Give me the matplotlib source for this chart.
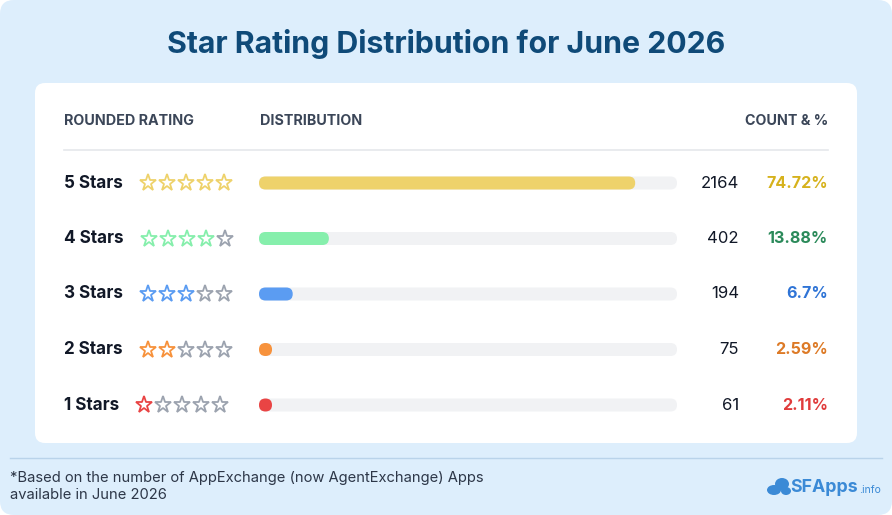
import matplotlib
matplotlib.use("Agg")
import matplotlib.pyplot as plt
from matplotlib.patches import FancyBboxPatch, Ellipse

# data
labels = ["5 Stars", "4 Stars", "3 Stars", "2 Stars", "1 Stars"]
stars = [5, 4, 3, 2, 1]
counts = [2164, 402, 194, 75, 61]
pcts = ["74.72%", "13.88%", "6.7%", "2.59%", "2.11%"]
bar_colors = ["#eed26b", "#86efac", "#5b9cf2", "#f7923c", "#e94444"]
pct_colors = ["#d6b21c", "#2b8a5a", "#2f74d6", "#dd7a26", "#e03b3b"]

title = "Star Rating Distribution for June 2026"
footnote = ["*Based on the number of AppExchange (now AgentExchange) Apps",
            "available in June 2026"]

FONT = "Inter"
W, H = 892, 515

fig = plt.figure(figsize=(W / 100, H / 100), dpi=100, facecolor="white")
ax = fig.add_axes([0, 0, 1, 1])
ax.set_xlim(0, W)
ax.set_ylim(H, 0)
ax.axis("off")

# page background and card
ax.add_patch(FancyBboxPatch((0, 0), W, H, boxstyle="round,pad=0,rounding_size=14",
                            fc="#ddeefc", ec="none"))
ax.add_patch(FancyBboxPatch((35, 83), 822, 360, boxstyle="round,pad=0,rounding_size=10",
                            fc="white", ec="none"))

ax.text(W / 2, 44, title, ha="center", va="center", fontsize=21.8,
        fontweight="bold", color="#0f4a78", family=FONT)

# header
hdr = dict(fontsize=10.3, fontweight="bold", color="#3b4658", family=FONT, va="center")
ax.text(64, 121, "ROUNDED RATING", ha="left", **hdr)
ax.text(260, 121, "DISTRIBUTION", ha="left", **hdr)
ax.text(828, 121, "COUNT & %", ha="right", **hdr)
ax.plot([64, 828], [150, 150], color="#e5e7eb", lw=1.2)

# rows
y0, step = 183, 55.5
track_x0, track_x1, bar_h = 259, 677, 13
track_w = track_x1 - track_x0
max_count = max(counts)

fig.canvas.draw()
renderer = fig.canvas.get_renderer()

for i, lab in enumerate(labels):
    y = y0 + i * step
    t = ax.text(64, y, lab, ha="left", va="center", fontsize=12.3,
                fontweight="bold", color="#111827", family=FONT)
    bb = t.get_window_extent(renderer=renderer)
    sx = bb.x1 + 25
    for k in range(5):
        c = bar_colors[i] if k < stars[i] else "#9ca3af"
        ax.plot(sx + k * 19, y, marker="*", ms=12.5, mfc="none", mec=c, mew=1.3)

    # track and bar
    ax.add_patch(FancyBboxPatch((track_x0, y - bar_h / 2), track_w, bar_h,
                                boxstyle=f"round,pad=0,rounding_size={bar_h/2}",
                                fc="#f1f2f4", ec="none"))
    w = max(counts[i] / max_count * 0.9 * track_w, bar_h)
    ax.add_patch(FancyBboxPatch((track_x0, y - bar_h / 2), w, bar_h,
                                boxstyle=f"round,pad=0,rounding_size={bar_h/2}",
                                fc=bar_colors[i], ec="none"))

    ax.text(739, y, str(counts[i]), ha="right", va="center", fontsize=12,
            color="#111827", family=FONT)
    ax.text(828, y, pcts[i], ha="right", va="center", fontsize=11.6,
            fontweight="bold", color=pct_colors[i], family=FONT)

# footer
ax.plot([10, 882], [458, 458], color="#b9d3ea", lw=1)
ax.text(10, 478, footnote[0], ha="left", va="center", fontsize=10.6,
        color="#2d3748", family=FONT)
ax.text(10, 495, footnote[1], ha="left", va="center", fontsize=10.6,
        color="#2d3748", family=FONT)

# logo
logo_c = "#3b8ad6"
for cx, cy, ew, eh in [(774, 490, 14, 10), (782, 484, 14, 12), (786, 491, 10, 8)]:
    ax.add_patch(Ellipse((cx, cy), ew, eh, fc=logo_c, ec="none"))
ax.text(790, 487, "SFApps", ha="left", va="center", fontsize=12.8,
        fontweight="bold", color=logo_c, family=FONT)
ax.text(859, 490, ".info", ha="left", va="center", fontsize=7.5,
        color=logo_c, family=FONT)

fig.savefig("out.png", dpi=100, facecolor="white")
